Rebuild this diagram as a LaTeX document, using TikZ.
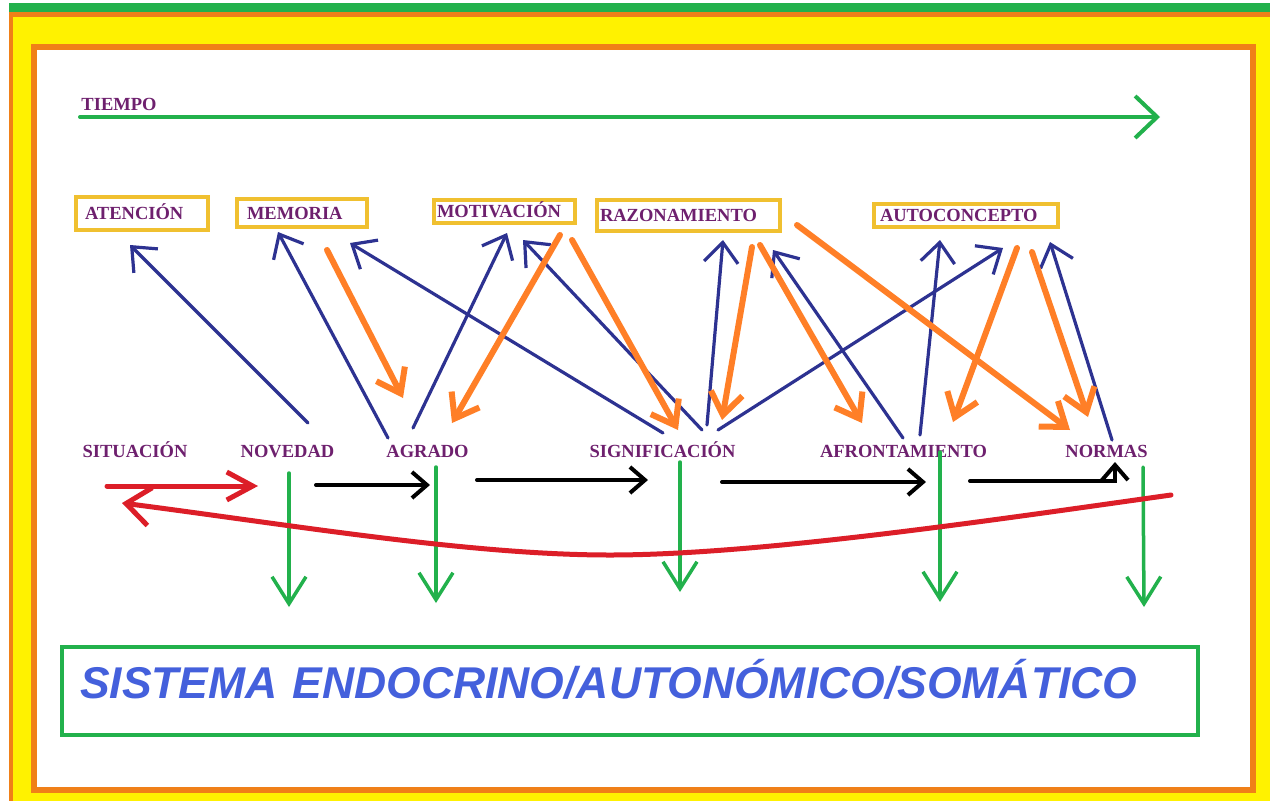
\documentclass[tikz,border=0pt]{standalone}
\usepackage{fontspec}
\setmainfont{Liberation Serif}
\newfontfamily\sansfont{Liberation Sans}
\usetikzlibrary{arrows.meta}
\definecolor{pgreen}{RGB}{34,177,76}
\definecolor{porange}{RGB}{255,127,39}
\definecolor{frameorange}{RGB}{240,128,24}
\definecolor{pyellow}{RGB}{255,242,0}
\definecolor{pgold}{RGB}{240,192,48}
\definecolor{lblpurple}{RGB}{110,32,110}
\definecolor{navy}{RGB}{45,50,145}
\definecolor{pred}{RGB}{220,30,40}
\definecolor{txtblue}{RGB}{68,96,220}
\begin{document}
\begin{tikzpicture}[x=1pt,y=-1pt,
  lbl/.style={font=\bfseries\fontsize{18.5}{20}\selectfont, text=lblpurple, inner sep=0pt},
  goldbox/.style={lbl, draw=pgold, line width=4pt, inner ysep=0pt, align=left, anchor=west,
                  text height=12.5pt, text depth=0pt},
  bluearrow/.style={draw=navy, line width=3.2pt, line cap=round, -{Straight Barb[length=20pt,width=34pt]}},
  orangearrow/.style={draw=porange, line width=6pt, line cap=round, -{Straight Barb[length=22pt,width=32pt]}},
  greenarrow/.style={draw=pgreen, line width=3.5pt, line cap=round, -{Straight Barb[length=27pt,width=34pt]}},
  timearrow/.style={draw=pgreen, line width=4pt, line cap=round, -{Straight Barb[length=22pt,width=42pt]}},
  blackarrow/.style={draw=black, line width=4pt, line cap=round, -{Straight Barb[length=15pt,width=26pt]}},
  redarrow/.style={draw=pred, line width=5pt, line cap=round, -{Straight Barb[length=26pt,width=28pt]}},
  redcurve/.style={draw=pred, line width=5pt, line cap=round, -{Straight Barb[length=24pt,width=38pt]}},
  sysbox/.style={draw=pgreen, line width=4pt, inner ysep=0pt, inner xsep=18pt, align=left,
                 text height=51pt, text depth=37pt, text width=1100pt, text=txtblue,
                 font=\sansfont\bfseries\itshape\fontsize{44.5}{50}\selectfont}
]
\useasboundingbox (0,0) rectangle (1270,801);
% frames
\fill[white] (0,0) rectangle (1270,801);
\fill[frameorange] (9,12) rectangle (1270,801);
\fill[pyellow] (13,17) rectangle (1270,801);
\fill[pgreen] (9,3) rectangle (1270,12);
\draw[frameorange, line width=6pt, fill=white] (34,47) rectangle (1253,790);

% time axis
\node[lbl, anchor=base] (tiempo) at (119,110) {TIEMPO};
\coordinate (tA) at (80,117);
\coordinate (tB) at (1160,117);
\draw[timearrow] (tA) -- (tB);

% boxed concepts
\node[goldbox, inner xsep=9pt, text width=114pt, minimum height=33pt] (aten) at (74,213.5) {ATENCIÓN};
\node[goldbox, inner xsep=10pt, text width=110pt, minimum height=28pt] (memo) at (235,213) {MEMORIA};
\node[goldbox, inner xsep=3pt, text width=135pt, minimum height=23pt] (moti) at (432,211.5) {MOTIVACIÓN};
\node[goldbox, inner xsep=3pt, text width=177pt, minimum height=31pt] (razo) at (595,215.5) {RAZONAMIENTO};
\node[goldbox, inner xsep=6pt, text width=172pt, minimum height=23pt] (auto) at (872,215.5) {AUTOCONCEPTO};

% stage labels
\node[lbl, anchor=base] (sit) at (135,457) {SITUACIÓN};
\node[lbl, anchor=base] (nov) at (287.5,457) {NOVEDAD};
\node[lbl, anchor=base] (agr) at (427.5,457) {AGRADO};
\node[lbl, anchor=base] (sig) at (662.5,457) {SIGNIFICACIÓN};
\node[lbl, anchor=base] (afr) at (903.5,457) {AFRONTAMIENTO};
\node[lbl, anchor=base] (nor) at (1106.5,457) {NORMAS};

% bottom system box
\node[sysbox, anchor=west] (sys) at (60,691) {SISTEMA ENDOCRINO/AUTONÓMICO/SOMÁTICO};

% ---- blue arrows (stage -> concept)
\coordinate (b1s) at (308,423);  \coordinate (b1e) at (130,245);
\coordinate (b2s) at (388,438);  \coordinate (b2e) at (278,232);
\coordinate (b3s) at (663,433);  \coordinate (b3e) at (350,243);
\coordinate (b4s) at (413,428);  \coordinate (b4e) at (507,233);
\coordinate (b5s) at (702,430);  \coordinate (b5e) at (523,240);
\coordinate (b6s) at (707,425);  \coordinate (b6e) at (723,240);
\coordinate (b7s) at (903,438);  \coordinate (b7e) at (773,250);
\coordinate (b8s) at (718,430);  \coordinate (b8e) at (1003,248);
\coordinate (b9s) at (920,435);  \coordinate (b9e) at (940,240);
\coordinate (b10s) at (1112,440); \coordinate (b10e) at (1050,242);
\foreach \i in {1,...,10} {\draw[bluearrow] (b\i s) -- (b\i e);}

% ---- orange arrows (concept -> stage)
\coordinate (o1s) at (327,250);  \coordinate (o1e) at (403,398);
\coordinate (o2s) at (560,235);  \coordinate (o2e) at (452,423);
\coordinate (o3s) at (572,240);  \coordinate (o3e) at (678,430);
\coordinate (o4s) at (752,247);  \coordinate (o4e) at (722,420);
\coordinate (o5s) at (760,245);  \coordinate (o5e) at (862,423);
\coordinate (o6s) at (797,225);  \coordinate (o6e) at (1070,430);
\coordinate (o7s) at (1017,248); \coordinate (o7e) at (953,422);
\coordinate (o8s) at (1032,252); \coordinate (o8e) at (1088,417);
\foreach \i in {1,...,8} {\draw[orangearrow] (o\i s) -- (o\i e);}

% ---- green arrows (stage -> system)
\coordinate (g1s) at (289,473);  \coordinate (g1e) at (289,607);
\coordinate (g2s) at (436,467);  \coordinate (g2e) at (436,603);
\coordinate (g3s) at (680,462);  \coordinate (g3e) at (680,592);
\coordinate (g4s) at (940,452);  \coordinate (g4e) at (940,602);
\coordinate (g5s) at (1143,467); \coordinate (g5e) at (1144,607);
\foreach \i in {1,...,5} {\draw[greenarrow] (g\i s) -- (g\i e);}

% ---- black sequence arrows
\coordinate (k1s) at (316,485);  \coordinate (k1e) at (430,485);
\coordinate (k2s) at (477,480);  \coordinate (k2e) at (648,480);
\coordinate (k3s) at (722,482);  \coordinate (k3e) at (926,482);
\coordinate (k4s) at (970,481);  \coordinate (k4m) at (1115,481); \coordinate (k4e) at (1115,462);
\draw[blackarrow] (k1s) -- (k1e);
\draw[blackarrow] (k2s) -- (k2e);
\draw[blackarrow] (k3s) -- (k3e);
\draw[blackarrow] (k4s) -- (k4m) -- (k4e);

% ---- red arrows
\coordinate (r1s) at (107,486);  \coordinate (r1e) at (258,486);
\draw[redarrow] (r1s) -- (r1e);
\coordinate (rcS) at (1171,495); \coordinate (rcM) at (610,555); \coordinate (rcE) at (122,503);
\draw[redcurve] (rcS) .. controls (1000,519) and (760,555) .. (rcM)
                      .. controls (470,555) and (292,525) .. (rcE);
\end{tikzpicture}
\end{document}
